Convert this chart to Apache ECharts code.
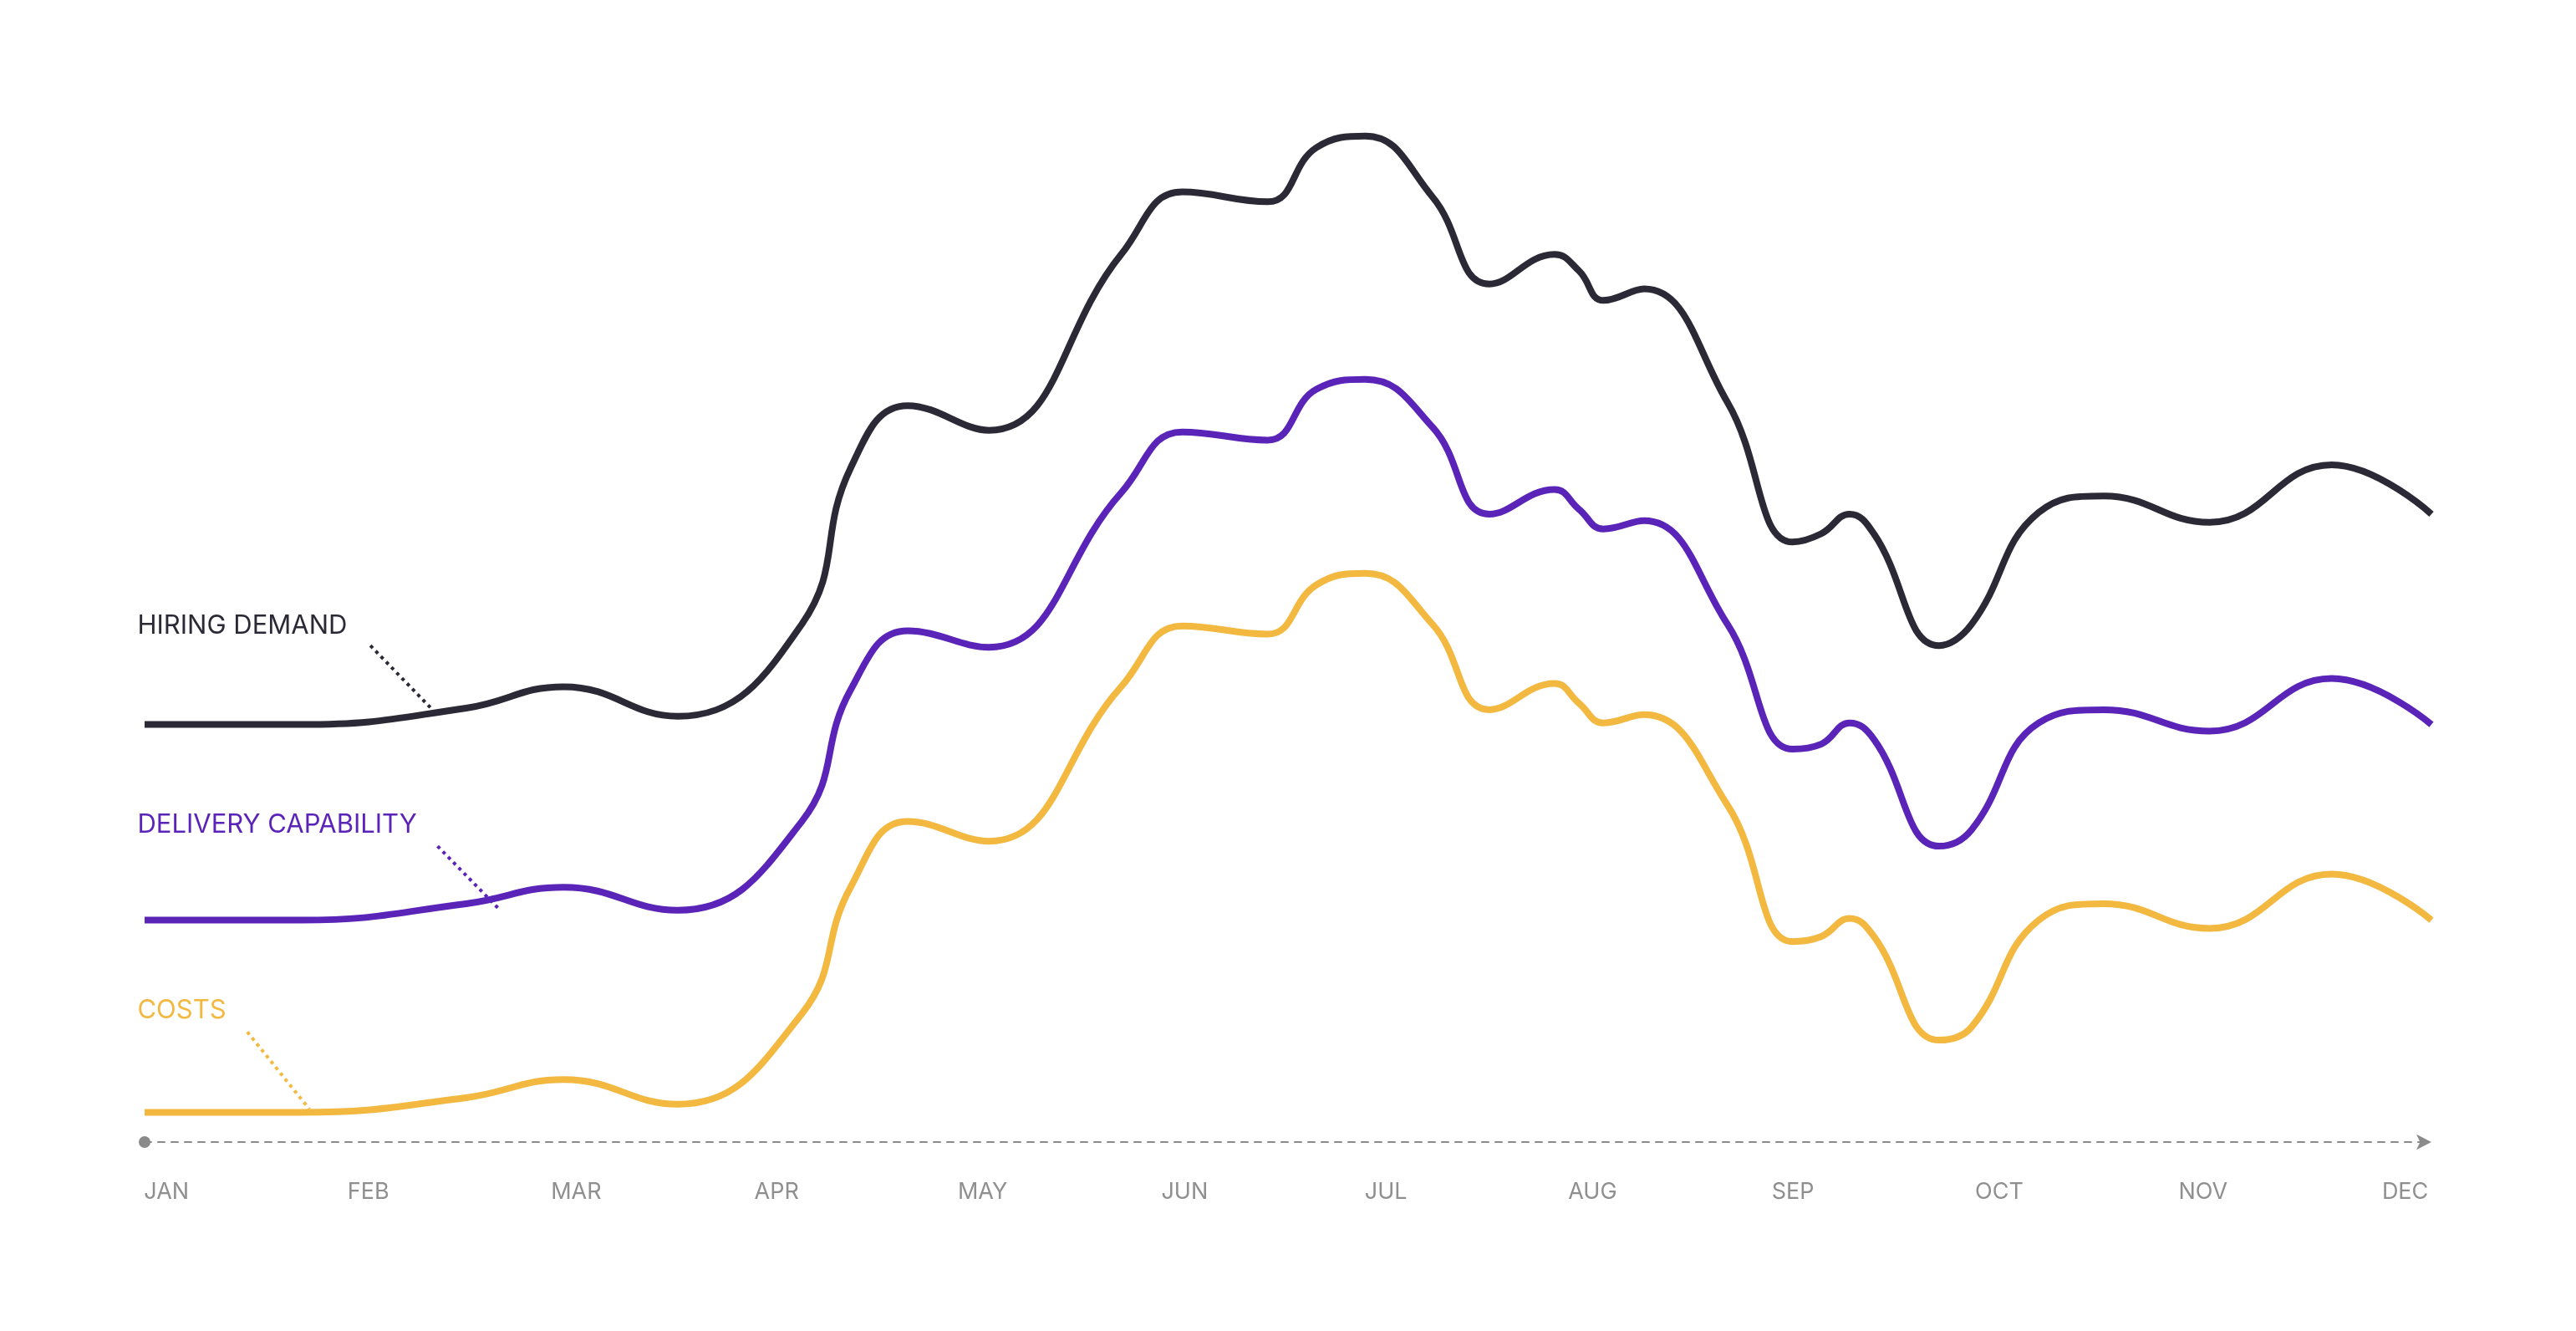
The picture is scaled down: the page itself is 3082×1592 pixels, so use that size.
<!DOCTYPE html>
<html><head><meta charset="utf-8">
<script src="https://cdn.jsdelivr.net/npm/echarts@6/dist/echarts.min.js"></script>
<style>html,body{margin:0;background:#fff}#c{width:3082px;height:1592px}</style></head>
<body><div id="c"></div>
<script>
const months = ['JAN','FEB','MAR','APR','MAY','JUN','JUL','AUG','SEP','OCT','NOV','DEC'];
const xs = [-0.03,0.74,1.55,2.03,2.59,3.20,3.44,3.72,4.12,4.77,5.07,5.49,5.73,5.97,6.30,6.58,6.90,7.02,7.14,7.34,7.75,8.07,8.21,8.35,8.47,8.79,8.95,9.28,9.60,10.12,10.72,11.21];
const hiring = [254,254,264,277,259,315,410,448,433,540,578,572,605,612,575,522,540,530,512,519,450,365,370,382,370,302,315,383,393,377,412,382];
const delivery = [135,135,145,155,141,195,275,311,301,395,432,427,458,464,435,382,397,385,373,378,315,239,242,255,245,180,190,255,263,250,282,254];
const costs = [18,18,27,38,23,78,155,195,183,277,314,309,339,346,315,263,279,267,255,260,205,122,125,136,125,62,70,135,145,130,163,135];
const series = [
  {name:'HIRING DEMAND', color:'#2b2935', data:hiring, lab:[-0.065,314], lead:[[1.08,302],[1.385,263]]},
  {name:'DELIVERY CAPABILITY', color:'#5b24b8', data:delivery, lab:[-0.065,193], lead:[[1.41,180],[1.71,142]]},
  {name:'COSTS', color:'#f2b840', data:costs, lab:[-0.065,80], lead:[[0.475,67],[0.78,20]]}
];
const chart = echarts.init(document.getElementById('c'));
const opt = {
  animation:false,
  grid:{left:173,right:173,top:147,bottom:226},
  xAxis:{type:'value',min:-0.03,max:11.21,interval:1,splitLine:{show:false},
    axisTick:{show:false},
    axisLine:{show:true,symbol:['circle','arrow'],symbolSize:[14,18],symbolOffset:[0,0],
      lineStyle:{color:'#8a8a8a',type:[8,8],width:2}},
    axisLabel:{show:false}},
  yAxis:{type:'value',min:0,max:620,show:false},
  series:[]
};
series.forEach(s=>{
  opt.series.push({type:'line',smooth:0.45,symbol:'none',data:xs.map((x,i)=>[x,s.data[i]]),
    lineStyle:{color:s.color,width:8},z:3});
  opt.series.push({type:'line',symbol:'none',data:s.lead,lineStyle:{color:s.color,width:4,type:[4,5]},z:2});
});
chart.setOption(opt);
const g=[];
months.forEach((m,i)=>{const p=chart.convertToPixel({gridIndex:0},[i,0]);
  g.push({type:'text',x:p[0]-8,y:p[1]+46,style:{text:m,fill:'#8f8f8f',font:'27px Inter',textAlign:'left',textVerticalAlign:'top'}});});
series.forEach(s=>{const p=chart.convertToPixel({gridIndex:0},s.lab);
  g.push({type:'text',x:p[0],y:p[1],style:{text:s.name,fill:s.color,font:'31px Inter',textAlign:'left',textVerticalAlign:'middle'}});});
chart.setOption({graphic:g});
</script></body></html>
